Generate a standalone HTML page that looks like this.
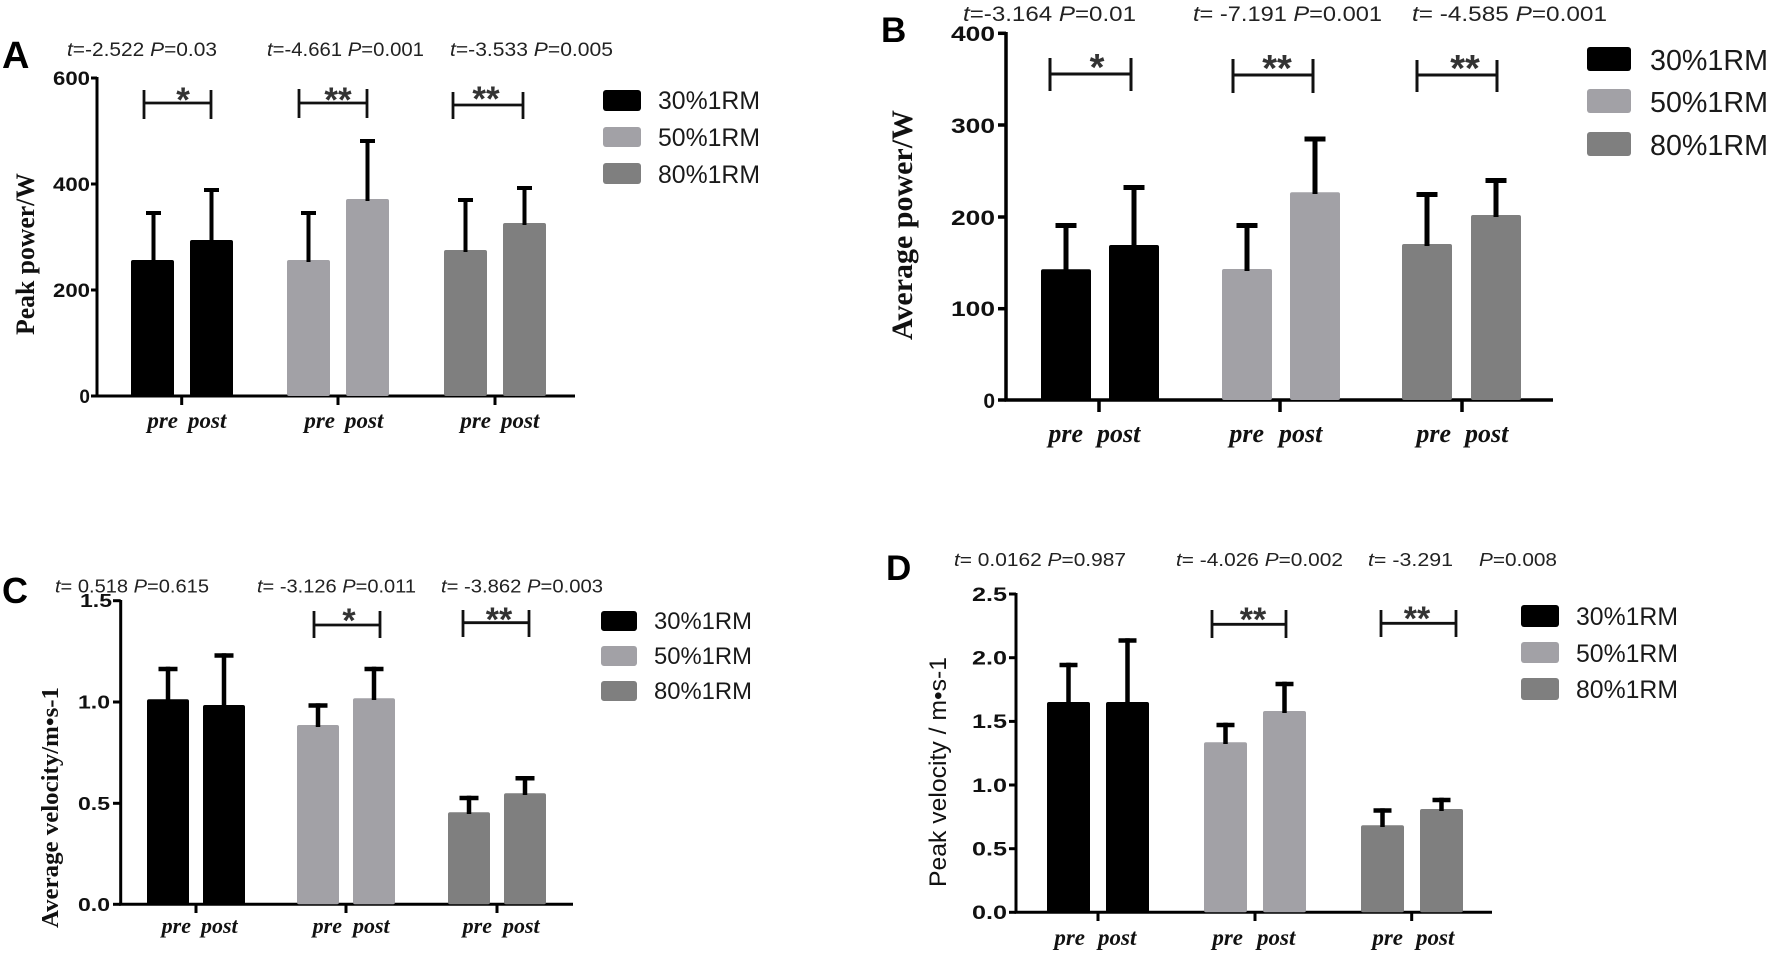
<!DOCTYPE html>
<html><head><meta charset="utf-8"><style>
html,body{margin:0;padding:0;background:#fff;}
svg{display:block;}
.tk{font-family:"Liberation Sans",Arial,sans-serif;font-weight:bold;fill:#111;}
.ann{font-family:"Liberation Sans",Arial,sans-serif;fill:#222;}
.lg{font-family:"Liberation Sans",Arial,sans-serif;fill:#1a1a1a;}
.xl{font-family:"Liberation Serif","Times New Roman",serif;font-weight:bold;font-style:italic;fill:#111;}
.yl{font-family:"Liberation Serif","Times New Roman",serif;font-weight:bold;fill:#111;}
.st{font-family:"Liberation Sans",Arial,sans-serif;font-weight:bold;fill:#333;}
.pl{font-family:"Liberation Sans",Arial,sans-serif;font-weight:bold;fill:#000;}
</style></head><body>
<svg width="1772" height="956" viewBox="0 0 1772 956" xmlns="http://www.w3.org/2000/svg">
<rect width="1772" height="956" fill="#fff"/>

<!-- ================= PANEL A ================= -->
<text class="pl" x="2" y="68" font-size="38">A</text>
<text class="ann" x="67" y="56" font-size="19" textLength="150" lengthAdjust="spacingAndGlyphs"><tspan font-style="italic">t</tspan>=-2.522 <tspan font-style="italic">P</tspan>=0.03</text>
<text class="ann" x="267" y="56" font-size="19" textLength="157" lengthAdjust="spacingAndGlyphs"><tspan font-style="italic">t</tspan>=-4.661 <tspan font-style="italic">P</tspan>=0.001</text>
<text class="ann" x="450" y="56" font-size="19" textLength="163" lengthAdjust="spacingAndGlyphs"><tspan font-style="italic">t</tspan>=-3.533 <tspan font-style="italic">P</tspan>=0.005</text>

<g fill="none" stroke="#000">
<line x1="97" y1="77" x2="97" y2="397.5" stroke-width="3"/>
<line x1="95.5" y1="396" x2="575" y2="396" stroke-width="3"/>
<g stroke-width="3">
<line x1="91" y1="78" x2="97" y2="78"/><line x1="91" y1="184" x2="97" y2="184"/>
<line x1="91" y1="290" x2="97" y2="290"/><line x1="91" y1="396" x2="97" y2="396"/>
<line x1="181.7" y1="396" x2="181.7" y2="405"/><line x1="338" y1="396" x2="338" y2="405"/><line x1="495" y1="396" x2="495" y2="405"/>
</g>
</g>
<text class="tk" x="90" y="85" font-size="19" text-anchor="end" textLength="37" lengthAdjust="spacingAndGlyphs">600</text>
<text class="tk" x="90" y="191" font-size="19" text-anchor="end" textLength="37" lengthAdjust="spacingAndGlyphs">400</text>
<text class="tk" x="90" y="297" font-size="19" text-anchor="end" textLength="37" lengthAdjust="spacingAndGlyphs">200</text>
<text class="tk" x="90" y="403" font-size="19" text-anchor="end">0</text>

<text class="yl" transform="translate(34,254) rotate(-90)" text-anchor="middle" font-size="26" textLength="162" lengthAdjust="spacingAndGlyphs">Peak power/W</text>

<!-- bars A -->
<rect x="131" y="260" width="43" height="136" rx="2" fill="#000"/>
<rect x="190" y="240" width="43" height="156" rx="2" fill="#000"/>
<rect x="287" y="260" width="43" height="136" rx="2" fill="#a2a1a6"/>
<rect x="346" y="199" width="43" height="197" rx="2" fill="#a2a1a6"/>
<rect x="444" y="250" width="43" height="146" rx="2" fill="#7f7f7f"/>
<rect x="503" y="223" width="43" height="173" rx="2" fill="#7f7f7f"/>
<g stroke="#000" stroke-width="4">
<line x1="153.5" y1="262" x2="153.5" y2="211"/><line x1="146" y1="213" x2="161" y2="213"/>
<line x1="211.5" y1="242" x2="211.5" y2="188"/><line x1="204" y1="190" x2="219" y2="190"/>
<line x1="308.5" y1="262" x2="308.5" y2="211"/><line x1="301" y1="213" x2="316" y2="213"/>
<line x1="367.5" y1="201" x2="367.5" y2="139"/><line x1="360" y1="141" x2="375" y2="141"/>
<line x1="465.5" y1="252" x2="465.5" y2="198"/><line x1="458" y1="200" x2="473" y2="200"/>
<line x1="524.5" y1="225" x2="524.5" y2="186"/><line x1="517" y1="188" x2="532" y2="188"/>
</g>
<!-- brackets A -->
<g stroke="#111" stroke-width="2.8" fill="none">
<line x1="144" y1="103" x2="211" y2="103"/><line x1="144" y1="90" x2="144" y2="119"/><line x1="211" y1="90" x2="211" y2="119"/>
<line x1="299" y1="103" x2="367" y2="103"/><line x1="299" y1="89" x2="299" y2="118"/><line x1="367" y1="89" x2="367" y2="118"/>
<line x1="453" y1="105" x2="523" y2="105"/><line x1="453" y1="92" x2="453" y2="119"/><line x1="523" y1="92" x2="523" y2="119"/>
</g>
<text class="st" x="183" y="112" font-size="35" text-anchor="middle">*</text>
<text class="st" x="338" y="112" font-size="35" text-anchor="middle">**</text>
<text class="st" x="486" y="111" font-size="35" text-anchor="middle">**</text>

<!-- x labels A -->
<g class="xl" font-size="23">
<text x="178" y="428" text-anchor="end">pre</text><text x="188" y="428">post</text>
<text x="335" y="428" text-anchor="end">pre</text><text x="345" y="428">post</text>
<text x="491" y="428" text-anchor="end">pre</text><text x="501" y="428">post</text>
</g>

<!-- legend A -->
<rect x="603" y="90" width="38" height="21" rx="3" fill="#000"/>
<rect x="603" y="127" width="38" height="20" rx="3" fill="#a2a1a6"/>
<rect x="603" y="163" width="38" height="21" rx="3" fill="#7f7f7f"/>
<text class="lg" x="658" y="109" font-size="25" textLength="102" lengthAdjust="spacingAndGlyphs">30%1RM</text>
<text class="lg" x="658" y="146" font-size="25" textLength="102" lengthAdjust="spacingAndGlyphs">50%1RM</text>
<text class="lg" x="658" y="183" font-size="25" textLength="102" lengthAdjust="spacingAndGlyphs">80%1RM</text>

<!-- ================= PANEL B ================= -->
<text class="pl" x="881" y="42" font-size="35">B</text>
<text class="ann" x="963" y="21" font-size="21" textLength="173" lengthAdjust="spacingAndGlyphs"><tspan font-style="italic">t</tspan>=-3.164 <tspan font-style="italic">P</tspan>=0.01</text>
<text class="ann" x="1193" y="21" font-size="21" textLength="189" lengthAdjust="spacingAndGlyphs"><tspan font-style="italic">t</tspan>= -7.191 <tspan font-style="italic">P</tspan>=0.001</text>
<text class="ann" x="1412" y="21" font-size="21" textLength="195" lengthAdjust="spacingAndGlyphs"><tspan font-style="italic">t</tspan>= -4.585 <tspan font-style="italic">P</tspan>=0.001</text>

<g fill="none" stroke="#000" stroke-width="3.5">
<line x1="1006" y1="32" x2="1006" y2="401.5"/>
<line x1="1004.5" y1="400" x2="1553" y2="400"/>
<line x1="998" y1="33.3" x2="1006" y2="33.3"/><line x1="998" y1="125" x2="1006" y2="125"/>
<line x1="998" y1="217" x2="1006" y2="217"/><line x1="998" y1="308.7" x2="1006" y2="308.7"/>
<line x1="998" y1="400" x2="1006" y2="400"/>
<line x1="1099" y1="400" x2="1099" y2="412"/><line x1="1280" y1="400" x2="1280" y2="412"/><line x1="1462" y1="400" x2="1462" y2="412"/>
</g>
<text class="tk" x="995" y="41" font-size="21" text-anchor="end" textLength="44" lengthAdjust="spacingAndGlyphs">400</text>
<text class="tk" x="995" y="133" font-size="21" text-anchor="end" textLength="44" lengthAdjust="spacingAndGlyphs">300</text>
<text class="tk" x="995" y="225" font-size="21" text-anchor="end" textLength="44" lengthAdjust="spacingAndGlyphs">200</text>
<text class="tk" x="995" y="316" font-size="21" text-anchor="end" textLength="44" lengthAdjust="spacingAndGlyphs">100</text>
<text class="tk" x="995" y="408" font-size="21" text-anchor="end">0</text>

<text class="yl" transform="translate(912,225) rotate(-90)" text-anchor="middle" font-size="30" textLength="230" lengthAdjust="spacingAndGlyphs">Average power/W</text>

<rect x="1041" y="269.3" width="50" height="130.7" rx="2" fill="#000"/>
<rect x="1109" y="245" width="50" height="155" rx="2" fill="#000"/>
<rect x="1222" y="269" width="50" height="131" rx="2" fill="#a2a1a6"/>
<rect x="1290" y="192.3" width="50" height="207.7" rx="2" fill="#a2a1a6"/>
<rect x="1402" y="244" width="50" height="156" rx="2" fill="#7f7f7f"/>
<rect x="1471" y="215" width="50" height="185" rx="2" fill="#7f7f7f"/>
<g stroke="#000" stroke-width="5">
<line x1="1066" y1="271" x2="1066" y2="223"/><line x1="1055.5" y1="225.5" x2="1076.5" y2="225.5"/>
<line x1="1134" y1="247" x2="1134" y2="185"/><line x1="1123.5" y1="187.5" x2="1144.5" y2="187.5"/>
<line x1="1247" y1="271" x2="1247" y2="223"/><line x1="1236.5" y1="225.5" x2="1257.5" y2="225.5"/>
<line x1="1315" y1="194" x2="1315" y2="136.7"/><line x1="1304.5" y1="139" x2="1325.5" y2="139"/>
<line x1="1427" y1="246" x2="1427" y2="192"/><line x1="1416.5" y1="194.5" x2="1437.5" y2="194.5"/>
<line x1="1496" y1="217" x2="1496" y2="178"/><line x1="1485.5" y1="180.5" x2="1506.5" y2="180.5"/>
</g>
<g stroke="#111" stroke-width="3" fill="none">
<line x1="1050" y1="74" x2="1131" y2="74"/><line x1="1050" y1="58" x2="1050" y2="91"/><line x1="1131" y1="58" x2="1131" y2="91"/>
<line x1="1233" y1="75" x2="1313" y2="75"/><line x1="1233" y1="59" x2="1233" y2="93"/><line x1="1313" y1="59" x2="1313" y2="93"/>
<line x1="1417" y1="75" x2="1497" y2="75"/><line x1="1417" y1="60" x2="1417" y2="92"/><line x1="1497" y1="60" x2="1497" y2="92"/>
</g>
<text class="st" x="1097" y="80" font-size="38" text-anchor="middle">*</text>
<text class="st" x="1277" y="81" font-size="38" text-anchor="middle">**</text>
<text class="st" x="1465" y="81" font-size="38" text-anchor="middle">**</text>

<g class="xl" font-size="26">
<text x="1083" y="442" text-anchor="end">pre</text><text x="1097" y="442">post</text>
<text x="1264" y="442" text-anchor="end">pre</text><text x="1279" y="442">post</text>
<text x="1451" y="442" text-anchor="end">pre</text><text x="1465" y="442">post</text>
</g>

<rect x="1587" y="47" width="44" height="24" rx="3" fill="#000"/>
<rect x="1587" y="89" width="44" height="24" rx="3" fill="#a2a1a6"/>
<rect x="1587" y="132" width="44" height="24" rx="3" fill="#7f7f7f"/>
<text class="lg" x="1650" y="70" font-size="29" textLength="118" lengthAdjust="spacingAndGlyphs">30%1RM</text>
<text class="lg" x="1650" y="112" font-size="29" textLength="118" lengthAdjust="spacingAndGlyphs">50%1RM</text>
<text class="lg" x="1650" y="155" font-size="29" textLength="118" lengthAdjust="spacingAndGlyphs">80%1RM</text>

<!-- ================= PANEL C ================= -->
<text class="pl" x="2" y="603" font-size="36">C</text>
<text class="tk" x="112" y="607" font-size="18" text-anchor="end" textLength="32" lengthAdjust="spacingAndGlyphs">1.5</text>
<text class="ann" x="55" y="592.7" font-size="18.5" textLength="154" lengthAdjust="spacingAndGlyphs"><tspan font-style="italic">t</tspan>= 0.518 <tspan font-style="italic">P</tspan>=0.615</text>
<text class="ann" x="257" y="592.7" font-size="18.5" textLength="159" lengthAdjust="spacingAndGlyphs"><tspan font-style="italic">t</tspan>= -3.126 <tspan font-style="italic">P</tspan>=0.011</text>
<text class="ann" x="441" y="592.7" font-size="18.5" textLength="162" lengthAdjust="spacingAndGlyphs"><tspan font-style="italic">t</tspan>= -3.862 <tspan font-style="italic">P</tspan>=0.003</text>

<g fill="none" stroke="#000" stroke-width="3">
<line x1="120.7" y1="600" x2="120.7" y2="905.5"/>
<line x1="119" y1="904.3" x2="573" y2="904.3"/>
<line x1="113" y1="600.7" x2="120.7" y2="600.7"/><line x1="113" y1="702" x2="120.7" y2="702"/>
<line x1="113" y1="803.3" x2="120.7" y2="803.3"/><line x1="113" y1="904.3" x2="120.7" y2="904.3"/>
<line x1="196" y1="904.3" x2="196" y2="913"/><line x1="346" y1="904.3" x2="346" y2="913"/><line x1="497" y1="904.3" x2="497" y2="913"/>
</g>
<text class="tk" x="110" y="708.5" font-size="18" text-anchor="end" textLength="32" lengthAdjust="spacingAndGlyphs">1.0</text>
<text class="tk" x="110" y="809.8" font-size="18" text-anchor="end" textLength="32" lengthAdjust="spacingAndGlyphs">0.5</text>
<text class="tk" x="110" y="910.8" font-size="18" text-anchor="end" textLength="32" lengthAdjust="spacingAndGlyphs">0.0</text>

<text class="yl" transform="translate(58,807.5) rotate(-90)" text-anchor="middle" font-size="24.5" textLength="241" lengthAdjust="spacingAndGlyphs">Average velocity/m•s-1</text>

<rect x="147" y="699.3" width="42" height="205" rx="2" fill="#000"/>
<rect x="203" y="705" width="42" height="199.3" rx="2" fill="#000"/>
<rect x="297" y="725" width="42" height="179.3" rx="2" fill="#a2a1a6"/>
<rect x="353" y="698.3" width="42" height="206" rx="2" fill="#a2a1a6"/>
<rect x="448" y="812.3" width="42" height="92" rx="2" fill="#7f7f7f"/>
<rect x="504" y="793.3" width="42" height="111" rx="2" fill="#7f7f7f"/>
<g stroke="#000" stroke-width="4.5">
<line x1="168" y1="701" x2="168" y2="666.7"/><line x1="158.5" y1="669" x2="177.5" y2="669"/>
<line x1="224" y1="707" x2="224" y2="653.3"/><line x1="214.5" y1="655.5" x2="233.5" y2="655.5"/>
<line x1="318" y1="727" x2="318" y2="703.3"/><line x1="308.5" y1="705.5" x2="327.5" y2="705.5"/>
<line x1="374" y1="700" x2="374" y2="666.7"/><line x1="364.5" y1="669" x2="383.5" y2="669"/>
<line x1="469" y1="814" x2="469" y2="795.7"/><line x1="459.5" y1="798" x2="478.5" y2="798"/>
<line x1="525" y1="795" x2="525" y2="776"/><line x1="515.5" y1="778.3" x2="534.5" y2="778.3"/>
</g>
<g stroke="#111" stroke-width="2.8" fill="none">
<line x1="314" y1="625" x2="380" y2="625"/><line x1="314" y1="611" x2="314" y2="638"/><line x1="380" y1="611" x2="380" y2="638"/>
<line x1="463" y1="622.7" x2="529" y2="622.7"/><line x1="463" y1="610" x2="463" y2="637"/><line x1="529" y1="610" x2="529" y2="637"/>
</g>
<text class="st" x="349" y="632" font-size="34" text-anchor="middle">*</text>
<text class="st" x="499" y="631" font-size="34" text-anchor="middle">**</text>

<g class="xl" font-size="22">
<text x="191" y="933" text-anchor="end">pre</text><text x="201" y="933">post</text>
<text x="342" y="933" text-anchor="end">pre</text><text x="353" y="933">post</text>
<text x="492" y="933" text-anchor="end">pre</text><text x="503" y="933">post</text>
</g>

<rect x="601" y="611" width="36" height="20" rx="3" fill="#000"/>
<rect x="601" y="646" width="36" height="20" rx="3" fill="#a2a1a6"/>
<rect x="601" y="681" width="36" height="20" rx="3" fill="#7f7f7f"/>
<text class="lg" x="654" y="629" font-size="24" textLength="98" lengthAdjust="spacingAndGlyphs">30%1RM</text>
<text class="lg" x="654" y="664" font-size="24" textLength="98" lengthAdjust="spacingAndGlyphs">50%1RM</text>
<text class="lg" x="654" y="699" font-size="24" textLength="98" lengthAdjust="spacingAndGlyphs">80%1RM</text>

<!-- ================= PANEL D ================= -->
<text class="pl" x="886" y="580" font-size="35">D</text>
<text class="ann" x="954" y="566" font-size="18.5" textLength="172" lengthAdjust="spacingAndGlyphs"><tspan font-style="italic">t</tspan>= 0.0162 <tspan font-style="italic">P</tspan>=0.987</text>
<text class="ann" x="1176" y="566" font-size="18.5" textLength="167" lengthAdjust="spacingAndGlyphs"><tspan font-style="italic">t</tspan>= -4.026 <tspan font-style="italic">P</tspan>=0.002</text>
<text class="ann" x="1368" y="566" font-size="18.5" textLength="85" lengthAdjust="spacingAndGlyphs"><tspan font-style="italic">t</tspan>= -3.291</text>
<text class="ann" x="1479" y="566" font-size="18.5" textLength="78" lengthAdjust="spacingAndGlyphs"><tspan font-style="italic">P</tspan>=0.008</text>

<g fill="none" stroke="#000" stroke-width="3">
<line x1="1016" y1="593" x2="1016" y2="913.5"/>
<line x1="1014.5" y1="912.3" x2="1492" y2="912.3"/>
<line x1="1009" y1="594" x2="1016" y2="594"/><line x1="1009" y1="657.7" x2="1016" y2="657.7"/>
<line x1="1009" y1="721.4" x2="1016" y2="721.4"/><line x1="1009" y1="785" x2="1016" y2="785"/>
<line x1="1009" y1="848.7" x2="1016" y2="848.7"/><line x1="1009" y1="912.3" x2="1016" y2="912.3"/>
<line x1="1098" y1="912.3" x2="1098" y2="921"/><line x1="1255" y1="912.3" x2="1255" y2="921"/><line x1="1411.7" y1="912.3" x2="1411.7" y2="921"/>
</g>
<text class="tk" x="1007" y="600.8" font-size="19" text-anchor="end" textLength="35" lengthAdjust="spacingAndGlyphs">2.5</text>
<text class="tk" x="1007" y="664.5" font-size="19" text-anchor="end" textLength="35" lengthAdjust="spacingAndGlyphs">2.0</text>
<text class="tk" x="1007" y="728.2" font-size="19" text-anchor="end" textLength="35" lengthAdjust="spacingAndGlyphs">1.5</text>
<text class="tk" x="1007" y="791.8" font-size="19" text-anchor="end" textLength="35" lengthAdjust="spacingAndGlyphs">1.0</text>
<text class="tk" x="1007" y="855.5" font-size="19" text-anchor="end" textLength="35" lengthAdjust="spacingAndGlyphs">0.5</text>
<text class="tk" x="1007" y="919.1" font-size="19" text-anchor="end" textLength="35" lengthAdjust="spacingAndGlyphs">0.0</text>

<text transform="translate(946,772) rotate(-90)" text-anchor="middle" font-family="Liberation Sans, Arial, sans-serif" fill="#111" font-size="24" textLength="230" lengthAdjust="spacingAndGlyphs">Peak velocity / m•s-1</text>

<rect x="1047" y="702" width="43" height="210.3" rx="2" fill="#000"/>
<rect x="1106" y="702" width="43" height="210.3" rx="2" fill="#000"/>
<rect x="1204" y="742.3" width="43" height="170" rx="2" fill="#a2a1a6"/>
<rect x="1263" y="711" width="43" height="201.3" rx="2" fill="#a2a1a6"/>
<rect x="1361" y="825.3" width="43" height="87" rx="2" fill="#7f7f7f"/>
<rect x="1420" y="809" width="43" height="103.3" rx="2" fill="#7f7f7f"/>
<g stroke="#000" stroke-width="4.5">
<line x1="1068.5" y1="704" x2="1068.5" y2="662.7"/><line x1="1059.5" y1="665" x2="1077.5" y2="665"/>
<line x1="1127.5" y1="704" x2="1127.5" y2="638.3"/><line x1="1118.5" y1="640.5" x2="1136.5" y2="640.5"/>
<line x1="1225.5" y1="744" x2="1225.5" y2="722.7"/><line x1="1216.5" y1="725" x2="1234.5" y2="725"/>
<line x1="1284.5" y1="713" x2="1284.5" y2="681.7"/><line x1="1275.5" y1="684" x2="1293.5" y2="684"/>
<line x1="1382.5" y1="827" x2="1382.5" y2="808.3"/><line x1="1373.5" y1="810.5" x2="1391.5" y2="810.5"/>
<line x1="1441.5" y1="811" x2="1441.5" y2="797.7"/><line x1="1432.5" y1="800" x2="1450.5" y2="800"/>
</g>
<g stroke="#111" stroke-width="2.8" fill="none">
<line x1="1212" y1="624.3" x2="1286" y2="624.3"/><line x1="1212" y1="610" x2="1212" y2="638"/><line x1="1286" y1="610" x2="1286" y2="638"/>
<line x1="1381" y1="623.3" x2="1456" y2="623.3"/><line x1="1381" y1="610" x2="1381" y2="637"/><line x1="1456" y1="610" x2="1456" y2="637"/>
</g>
<text class="st" x="1253" y="631" font-size="34" text-anchor="middle">**</text>
<text class="st" x="1417" y="630" font-size="34" text-anchor="middle">**</text>

<g class="xl" font-size="23">
<text x="1085" y="945" text-anchor="end">pre</text><text x="1098" y="945">post</text>
<text x="1243" y="945" text-anchor="end">pre</text><text x="1257" y="945">post</text>
<text x="1403" y="945" text-anchor="end">pre</text><text x="1416" y="945">post</text>
</g>

<rect x="1521" y="605" width="38" height="22" rx="3" fill="#000"/>
<rect x="1521" y="642" width="38" height="21" rx="3" fill="#a2a1a6"/>
<rect x="1521" y="678" width="38" height="22" rx="3" fill="#7f7f7f"/>
<text class="lg" x="1576" y="625" font-size="25" textLength="102" lengthAdjust="spacingAndGlyphs">30%1RM</text>
<text class="lg" x="1576" y="662" font-size="25" textLength="102" lengthAdjust="spacingAndGlyphs">50%1RM</text>
<text class="lg" x="1576" y="698" font-size="25" textLength="102" lengthAdjust="spacingAndGlyphs">80%1RM</text>
</svg>
</body></html>
